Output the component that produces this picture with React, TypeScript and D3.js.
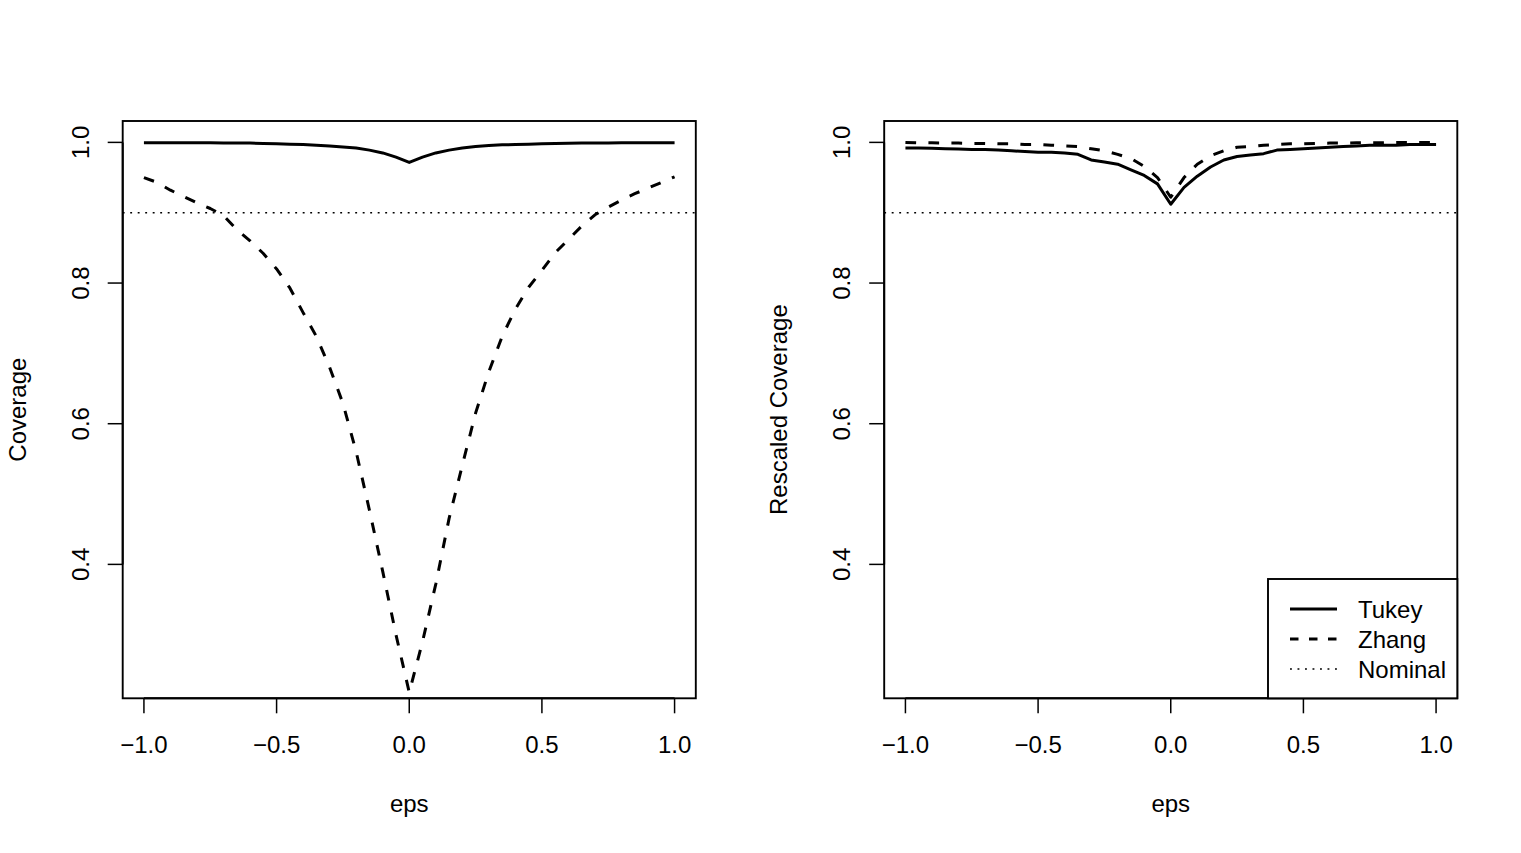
import * as d3 from 'd3';

// eps grid shared by every series (step 0.05)
const EPS = [
  -1.0, -0.95, -0.9, -0.85, -0.8, -0.75, -0.7, -0.65, -0.6, -0.55, -0.5,
  -0.45, -0.4, -0.35, -0.3, -0.25, -0.2, -0.15, -0.1, -0.05, 0.0,
  0.05, 0.1, 0.15, 0.2, 0.25, 0.3, 0.35, 0.4, 0.45, 0.5,
  0.55, 0.6, 0.65, 0.7, 0.75, 0.8, 0.85, 0.9, 0.95, 1.0,
];

// left panel: raw coverage
const TUKEY_COVERAGE = [
  0.9995, 0.9995, 0.9995, 0.9995, 0.9995, 0.9995, 0.999, 0.999, 0.999, 0.9985, 0.998,
  0.9975, 0.997, 0.996, 0.995, 0.9935, 0.992, 0.989, 0.985, 0.979, 0.9715,
  0.979, 0.985, 0.989, 0.992, 0.994, 0.9955, 0.9965, 0.997, 0.9975, 0.998,
  0.9985, 0.9988, 0.999, 0.999, 0.9992, 0.9993, 0.9994, 0.9995, 0.9995, 0.9995,
];
const ZHANG_COVERAGE = [
  0.950, 0.943, 0.932, 0.923, 0.914, 0.906, 0.896, 0.876, 0.860, 0.842, 0.820,
  0.793, 0.758, 0.724, 0.680, 0.629, 0.560, 0.477, 0.390, 0.300, 0.218,
  0.290, 0.372, 0.465, 0.541, 0.615, 0.674, 0.724, 0.763, 0.794, 0.818,
  0.843, 0.862, 0.881, 0.897, 0.908, 0.918, 0.927, 0.935, 0.943, 0.951,
];

// right panel: rescaled coverage
const TUKEY_RESCALED = [
  0.992, 0.992, 0.9915, 0.991, 0.9905, 0.990, 0.990, 0.989, 0.988, 0.987, 0.986,
  0.986, 0.985, 0.983, 0.975, 0.972, 0.969, 0.961, 0.953, 0.941, 0.912,
  0.936, 0.952, 0.965, 0.975, 0.980, 0.982, 0.984, 0.989, 0.990, 0.991,
  0.992, 0.993, 0.994, 0.995, 0.996, 0.996, 0.996, 0.997, 0.997, 0.997,
];
const ZHANG_RESCALED = [
  1.000, 0.9995, 0.9993, 0.999, 0.999, 0.9985, 0.9985, 0.998, 0.998, 0.997, 0.997,
  0.996, 0.995, 0.994, 0.991, 0.988, 0.983, 0.977, 0.966, 0.950, 0.922,
  0.950, 0.969, 0.981, 0.988, 0.993, 0.994, 0.996, 0.997, 0.998, 0.998,
  0.9985, 0.999, 0.999, 0.9993, 0.9995, 0.9995, 0.9997, 0.9998, 1.0, 1.0,
];

const NOMINAL = 0.9;
const X_TICKS = [-1.0, -0.5, 0.0, 0.5, 1.0];
const Y_TICKS = [0.4, 0.6, 0.8, 1.0];
const LEGEND_LABELS = ['Tukey', 'Zhang', 'Nominal'];

const W = 1521;
const H = 853;
const FONT = '"Liberation Sans", Arial, Helvetica, sans-serif';
const FS = 24;
const TOP = 121;
const BOTTOM = 698.3;
const BOX_W = 573.1;

const DASH = '10.7,12.3';
const DOT = '1.9,5.6';

const fmt = (v: number) => d3.format('.1f')(v).replace('-', '\u2212');

type PanelProps = {
  x0: number;
  yLabel: string;
  tukey: number[];
  zhang: number[];
  legend?: boolean;
};

function Panel({ x0, yLabel, tukey, zhang, legend = false }: PanelProps) {
  const x = d3.scaleLinear().domain([-1.08, 1.08]).range([x0, x0 + BOX_W]);
  const y = d3.scaleLinear().domain([0.2096, 1.0304]).range([BOTTOM, TOP]);

  const line = d3
    .line<number>()
    .x((_, i) => x(EPS[i]))
    .y((d) => y(d));

  const cx = x0 + BOX_W / 2;
  const cy = (TOP + BOTTOM) / 2;

  return (
    <g>
      {/* curves */}
      <path d={line(tukey) || ''} fill="none" stroke="#000" strokeWidth={3} strokeLinejoin="round" />
      <path
        d={line(zhang) || ''}
        fill="none"
        stroke="#000"
        strokeWidth={3}
        strokeDasharray={DASH}
        strokeLinejoin="round"
      />
      <line
        x1={x0}
        x2={x0 + BOX_W}
        y1={y(NOMINAL)}
        y2={y(NOMINAL)}
        stroke="#000"
        strokeWidth={1.4}
        strokeDasharray={DOT}
      />

      {/* plot box */}
      <rect x={x0} y={TOP} width={BOX_W} height={BOTTOM - TOP} fill="none" stroke="#000" strokeWidth={1.9} />

      {/* x axis */}
      <line x1={x(X_TICKS[0])} x2={x(X_TICKS[X_TICKS.length - 1])} y1={BOTTOM} y2={BOTTOM} stroke="#000" strokeWidth={1.9} />
      {X_TICKS.map((t) => (
        <g key={'x' + t}>
          <line x1={x(t)} x2={x(t)} y1={BOTTOM} y2={BOTTOM + 15} stroke="#000" strokeWidth={1.5} />
          <text x={x(t)} y={753} textAnchor="middle" fontSize={FS} fontFamily={FONT}>
            {fmt(t)}
          </text>
        </g>
      ))}
      <text x={cx} y={812} textAnchor="middle" fontSize={FS} fontFamily={FONT}>
        eps
      </text>

      {/* y axis */}
      <line x1={x0} x2={x0} y1={y(Y_TICKS[0])} y2={y(Y_TICKS[Y_TICKS.length - 1])} stroke="#000" strokeWidth={1.9} />
      {Y_TICKS.map((t) => (
        <g key={'y' + t}>
          <line x1={x0 - 15} x2={x0} y1={y(t)} y2={y(t)} stroke="#000" strokeWidth={1.5} />
          <text
            transform={`translate(${x0 - 34},${y(t)}) rotate(-90)`}
            textAnchor="middle"
            fontSize={FS}
            fontFamily={FONT}
          >
            {fmt(t)}
          </text>
        </g>
      ))}
      <text
        transform={`translate(${x0 - 97},${cy}) rotate(-90)`}
        textAnchor="middle"
        fontSize={FS}
        fontFamily={FONT}
      >
        {yLabel}
      </text>

      {legend && (
        <g>
          <rect x={1268} y={579} width={x0 + BOX_W - 1268} height={BOTTOM - 579} fill="#fff" stroke="#000" strokeWidth={1.9} />
          {LEGEND_LABELS.map((lab, i) => {
            const ly = 609 + i * 30;
            const dash = i === 1 ? '8.5,10.5' : i === 2 ? DOT : undefined;
            return (
              <g key={lab}>
                <line
                  x1={1290}
                  x2={1337}
                  y1={ly}
                  y2={ly}
                  stroke="#000"
                  strokeWidth={i === 2 ? 1.4 : 3}
                  strokeDasharray={dash}
                />
                <text x={1358} y={ly + 8.5} fontSize={FS} fontFamily={FONT}>
                  {lab}
                </text>
              </g>
            );
          })}
        </g>
      )}
    </g>
  );
}

export default function App() {
  return (
    <svg
      width={W}
      height={H}
      style={{ position: 'absolute', left: 0, top: 0, background: '#fff' }}
    >
      <rect width={W} height={H} fill="#fff" />
      <Panel x0={122.7} yLabel="Coverage" tukey={TUKEY_COVERAGE} zhang={ZHANG_COVERAGE} />
      <Panel x0={884.2} yLabel="Rescaled Coverage" tukey={TUKEY_RESCALED} zhang={ZHANG_RESCALED} legend />
    </svg>
  );
}
